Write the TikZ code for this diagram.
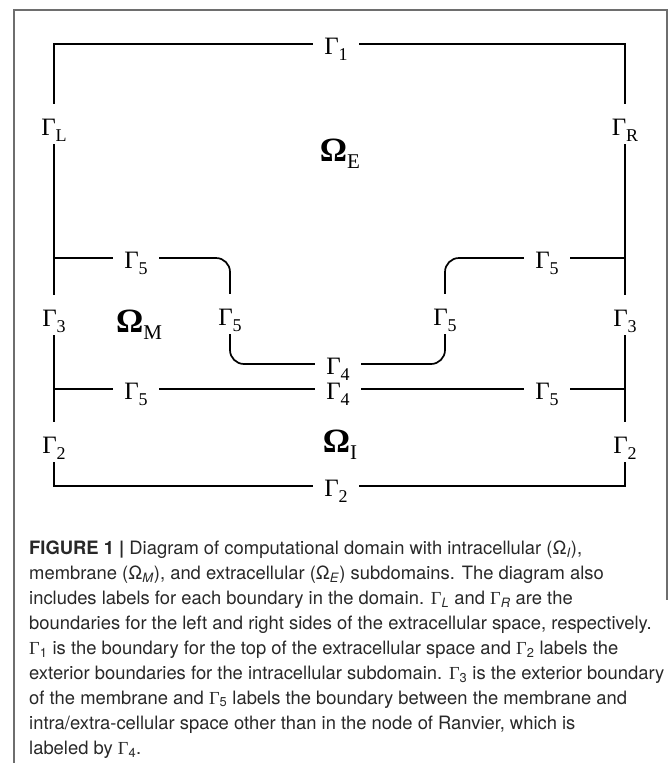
\documentclass[tikz,border=0pt]{standalone}
\usepackage{fontspec}
\setmainfont{TeX Gyre Heros}
\newfontfamily\labfont{Liberation Serif}
\usetikzlibrary{positioning}
\definecolor{FrameGray}{RGB}{110,110,110}
\definecolor{CapText}{RGB}{40,40,40}
% boundary label: Gamma with a lowered index
\newcommand\glab[2]{{\labfont\fontsize{25}{25}\selectfont #1\raisebox{-6pt}{\fontsize{18}{18}\selectfont #2}}}
% subdomain label: bold Omega with a lowered index
\newcommand\olab[2]{{\labfont\fontsize{34}{34}\selectfont\bfseries #1\raisebox{-7pt}{\fontsize{21}{21}\selectfont\mdseries #2}}}
% Gamma inside the caption
\newcommand\cg[1]{{\labfont Γ}\textsubscript{#1}}

\begin{document}
\begin{tikzpicture}[
  x=1pt, y=-1pt,
  wire/.style={draw=black, line width=1.7pt},
  hlab/.style={fill=white, inner xsep=11pt, inner ysep=1pt, anchor=base},
  vlab/.style={fill=white, inner xsep=1pt, inner ysep=0pt, anchor=base,
    text height=31pt, text depth=9pt},
  region/.style={anchor=base, inner sep=0pt},
  capline/.style={anchor=base west, inner sep=0pt, text=CapText,
    font=\fontsize{18.4}{25}\selectfont}
]
\useasboundingbox (0,0) rectangle (670,763);

% outer frame of the figure
\draw[FrameGray, line width=1.2pt] (14,763) -- (14,10) -- (667,10) -- (667,600);

% domain corners and junctions
\coordinate (cTL) at (54,44);
\coordinate (cBR) at (625,486);
\coordinate (jL5) at (54,258);
\coordinate (jR5) at (625,258);
\coordinate (jL5b) at (54,389);
\coordinate (jR5b) at (625,389);
\coordinate (mA) at (230,258);
\coordinate (mB) at (230,364);
\coordinate (mC) at (445,364);
\coordinate (mD) at (445,258);

\draw[wire] (cTL) rectangle (cBR);
\draw[wire, rounded corners=14pt] (jL5) -- (mA) -- (mB) -- (mC) -- (mD) -- (jR5);
\draw[wire] (jL5b) -- (jR5b);

% boundary labels
\node[hlab] (g1) at (336,54) {\glab{Γ}{1}};
\node[vlab] (gL) at (54,135) {\glab{Γ}{L}};
\node[vlab] (gR) at (625,135) {\glab{Γ}{R}};
\node[hlab] (g5a) at (136,268) {\glab{Γ}{5}};
\node[hlab] (g5d) at (547,268) {\glab{Γ}{5}};
\node[vlab] (g5b) at (230,325) {\glab{Γ}{5}};
\node[vlab] (g5c) at (445,325) {\glab{Γ}{5}};
\node[vlab] (g3l) at (54,326) {\glab{Γ}{3}};
\node[vlab] (g3r) at (625,326) {\glab{Γ}{3}};
\node[hlab] (g4a) at (338,374) {\glab{Γ}{4}};
\node[hlab] (g5e) at (136,399) {\glab{Γ}{5}};
\node[hlab] (g4b) at (338,399) {\glab{Γ}{4}};
\node[hlab] (g5f) at (547,399) {\glab{Γ}{5}};
\node[vlab] (g2l) at (54,453) {\glab{Γ}{2}};
\node[vlab] (g2r) at (625,453) {\glab{Γ}{2}};
\node[hlab] (g2b) at (336,496) {\glab{Γ}{2}};

% subdomain labels
\node[region] (oE) at (340,161) {\olab{Ω}{E}};
\node[region] (oM) at (139,332) {\olab{Ω}{M}};
\node[region] (oI) at (340,452) {\olab{Ω}{I}};

% caption
\node[capline] (cap1) at (29,554) {\textbf{FIGURE 1 |} Diagram of computational domain with intracellular (Ω\textsubscript{\textit{I}}),};
\node[capline] (cap2) at (29,579) {membrane (Ω\textsubscript{\textit{M}}), and extracellular (Ω\textsubscript{\textit{E}}) subdomains. The diagram also};
\node[capline] (cap3) at (29,604) {includes labels for each boundary in the domain. \cg{\textit{L}} and \cg{\textit{R}} are the};
\node[capline] (cap4) at (29,629) {boundaries for the left and right sides of the extracellular space, respectively.};
\node[capline] (cap5) at (29,654) {\cg{1} is the boundary for the top of the extracellular space and \cg{2} labels the};
\node[capline] (cap6) at (29,679) {exterior boundaries for the intracellular subdomain. \cg{3} is the exterior boundary};
\node[capline] (cap7) at (29,704) {of the membrane and \cg{5} labels the boundary between the membrane and};
\node[capline] (cap8) at (29,729) {intra/extra-cellular space other than in the node of Ranvier, which is};
\node[capline] (cap9) at (29,754) {labeled by \cg{4}.};
\end{tikzpicture}
\end{document}
